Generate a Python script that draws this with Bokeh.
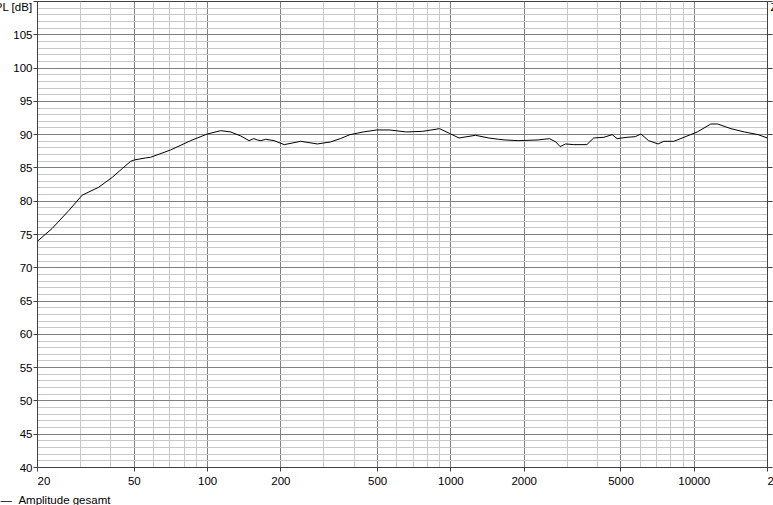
from bokeh.plotting import figure
from bokeh.models import (FixedTicker, Grid, LinearAxis, LogAxis, Title, LogScale,
                          NumeralTickFormatter, GlobalInlineStyleSheet)
from bokeh.embed import file_html
from bokeh.resources import INLINE

# ---- data ----
freq = [20, 22.96, 26.9, 30.5, 35.7, 40.6, 44.6, 48.3, 50, 55.6, 58.3, 70.5, 85.2,
        99.8, 113.3, 124.5, 136.9, 148, 155, 160, 165.5, 173.4, 187.6, 206.5, 241.5,
        282.5, 320, 351, 385, 436, 495, 561, 656, 766, 898, 985, 1080, 1262, 1430,
        1570, 1670, 1890, 2280, 2540, 2700, 2810, 2960, 3200, 3620, 3860, 4250, 4600,
        4820, 5290, 5730, 6040, 6490, 7100, 7500, 8250, 9650, 10290, 11700, 12470,
        14150, 16080, 18300, 19950]
spl = [74.0, 75.9, 78.6, 80.9, 82.1, 83.6, 84.9, 86.0, 86.2, 86.5, 86.6, 87.7, 89.1,
       90.1, 90.6, 90.4, 89.8, 89.1, 89.4, 89.2, 89.1, 89.3, 89.1, 88.5, 89.0,
       88.6, 88.9, 89.4, 90.0, 90.4, 90.7, 90.7, 90.4, 90.5, 90.9, 90.2, 89.5, 89.9, 89.5,
       89.3, 89.2, 89.1, 89.2, 89.4, 88.9, 88.2, 88.6, 88.5, 88.5, 89.5, 89.6, 90.0,
       89.4, 89.6, 89.7, 90.1, 89.1, 88.6, 89.0, 89.0, 90.0, 90.4, 91.6, 91.6,
       90.9, 90.4, 90.0, 89.5]

x_major = [20, 50, 100, 200, 500, 1000, 2000, 5000, 10000, 20000]
x_minor = [30, 40, 60, 70, 80, 90, 300, 400, 600, 700, 800, 900,
           3000, 4000, 6000, 7000, 8000, 9000]
y_labels = [40, 45, 50, 55, 60, 65, 70, 75, 80, 85, 90, 95, 100, 105]
y_top = 110
y_major = y_labels + [y_top]
y_minor = list(range(40, 111))
series_name = "Amplitude gesamt"
y_title = "SPL [dB]"
y2_title = "Z [Ohm]"

FONT = "Liberation Sans"
FS = "11.5px"
AX = "#404040"
MAJ = "#808080"
MIN = "#c8c8c8"
NB = "\u00a0"

# canvas is a bit larger than the window; the page crops it like the reference
p = figure(width=850, height=520, x_axis_type=None, y_axis_location=None,
           x_range=(20, 20000), y_range=(40, 110),
           output_backend="svg", toolbar_location=None,
           min_border_left=57, min_border_right=63, min_border_top=1, min_border_bottom=53)
p.stylesheets = [GlobalInlineStyleSheet(css="body{margin:0 0 0 -20px;overflow:hidden}")]
p.x_scale = LogScale()
p.background_fill_color = "white"
p.border_fill_color = "white"
p.outline_line_color = AX
p.grid.visible = False

# grids
p.add_layout(Grid(dimension=0, ticker=FixedTicker(ticks=x_major, minor_ticks=x_minor),
                  grid_line_color=MAJ, minor_grid_line_color=MIN))
p.add_layout(Grid(dimension=1, ticker=FixedTicker(ticks=y_major, minor_ticks=y_minor),
                  grid_line_color=MAJ, minor_grid_line_color=MIN))

# bottom axis: first / last labels shifted so they start at their ticks
x_over = {x_major[0]: NB * 4 + str(x_major[0]),
          x_major[-1]: NB * 10 + str(x_major[-1])}
xa = LogAxis(ticker=FixedTicker(ticks=x_major), formatter=NumeralTickFormatter(format="0"),
             major_label_overrides=x_over,
             axis_line_color=AX, major_tick_line_color=AX, major_tick_out=4, major_tick_in=0,
             minor_tick_out=0, minor_tick_in=0, major_label_standoff=3,
             major_label_text_font=FONT, major_label_text_font_size=FS,
             major_label_text_color="black")
p.add_layout(xa, "below")

# legend line (as text) under the axis
p.add_layout(Title(text="\u2014" + NB * 2 + series_name, align="left", offset=-37, standoff=4,
                   text_font=FONT, text_font_size=FS, text_font_style="normal",
                   text_color="black"), "below")

# left axis, its title sits at the top tick
ya = LinearAxis(ticker=FixedTicker(ticks=y_major), major_label_overrides={y_top: y_title},
                axis_line_color=AX, major_tick_line_color=AX, major_tick_out=4, major_tick_in=0,
                minor_tick_out=0, minor_tick_in=0, major_label_standoff=1,
                major_label_text_font=FONT, major_label_text_font_size=FS,
                major_label_text_color="black")
p.add_layout(ya, "left")

# right axis (ticks only, title at the top tick)
r_over = {v: "" for v in y_labels}
r_over[y_top] = y2_title
ya2 = LinearAxis(ticker=FixedTicker(ticks=y_major), major_label_overrides=r_over,
                 axis_line_color=AX, major_tick_line_color=AX, major_tick_out=5, major_tick_in=0,
                 minor_tick_out=0, minor_tick_in=0, major_label_standoff=-2,
                 major_label_text_font=FONT, major_label_text_font_size=FS,
                 major_label_text_color="black")
p.add_layout(ya2, "right")

p.line(freq, spl, line_color="black", line_width=1)

open("out.html", "w").write(file_html(p, INLINE))
